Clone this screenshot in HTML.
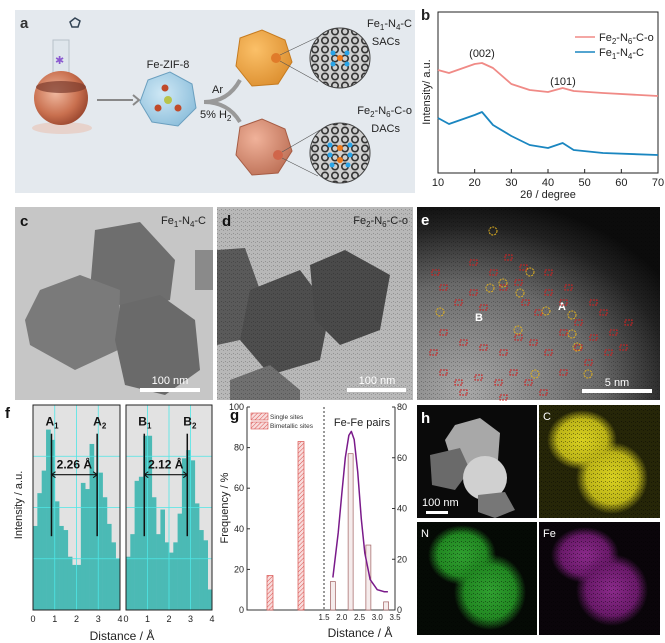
<!DOCTYPE html>
<html><head><meta charset="utf-8"><style>
body{margin:0;background:#fff;}
svg{display:block;font-family:"Liberation Sans",Arial,sans-serif;}
</style></head><body>
<svg id="fig" width="665" height="643" viewBox="0 0 665 643" xmlns="http://www.w3.org/2000/svg">
<defs>
<radialGradient id="flask" cx="0.4" cy="0.4" r="0.7"><stop offset="0" stop-color="#f0b9a0"/><stop offset="0.6" stop-color="#c9704f"/><stop offset="1" stop-color="#8f3d27"/></radialGradient>
<radialGradient id="orange" cx="0.35" cy="0.35" r="0.8"><stop offset="0" stop-color="#fbc068"/><stop offset="1" stop-color="#d98a2a"/></radialGradient>
<radialGradient id="brown" cx="0.35" cy="0.35" r="0.8"><stop offset="0" stop-color="#f0b29a"/><stop offset="1" stop-color="#b86a50"/></radialGradient>
<radialGradient id="zif" cx="0.4" cy="0.4" r="0.8"><stop offset="0" stop-color="#cfe8f5"/><stop offset="1" stop-color="#7fb6d6"/></radialGradient>
<radialGradient id="stem" cx="0.2" cy="0.95" r="1.0"><stop offset="0" stop-color="#a8a8a8"/><stop offset="0.55" stop-color="#6a6a6a"/><stop offset="0.85" stop-color="#222"/><stop offset="1" stop-color="#0c0c0c"/></radialGradient>
<radialGradient id="cmap" cx="0.5" cy="0.5" r="0.5"><stop offset="0" stop-color="#d8d020"/><stop offset="0.7" stop-color="#bdb518"/><stop offset="1" stop-color="#bdb518" stop-opacity="0"/></radialGradient>
<radialGradient id="nmap" cx="0.5" cy="0.5" r="0.5"><stop offset="0" stop-color="#30a030"/><stop offset="0.7" stop-color="#228822"/><stop offset="1" stop-color="#228822" stop-opacity="0"/></radialGradient>
<radialGradient id="femap" cx="0.5" cy="0.5" r="0.5"><stop offset="0" stop-color="#8a2a8a"/><stop offset="0.7" stop-color="#6a1a6a"/><stop offset="1" stop-color="#6a1a6a" stop-opacity="0"/></radialGradient>
<pattern id="speck" width="4" height="4" patternUnits="userSpaceOnUse"><rect width="4" height="4" fill="none"/><rect x="1" y="1" width="1" height="1" fill="#000" opacity="0.6"/><rect x="3" y="2" width="1" height="1" fill="#000" opacity="0.5"/></pattern>
<pattern id="hatch" width="3" height="3" patternUnits="userSpaceOnUse" patternTransform="rotate(45)"><rect width="3" height="3" fill="#f8dcdc"/><line x1="0" y1="0" x2="0" y2="3" stroke="#d9534f" stroke-width="1"/></pattern>
<pattern id="lattice" width="10" height="9" patternUnits="userSpaceOnUse"><rect width="10" height="9" fill="#cfcfcf"/><circle cx="5" cy="4.5" r="3.2" fill="none" stroke="#333" stroke-width="1.6"/></pattern>
</defs>

<!-- Panel a -->
<g>
<rect x="15" y="10" width="400" height="183" fill="#e4e9ee"/>
<text x="20" y="28" font-size="15" font-weight="bold" fill="#333">a</text>
<ellipse cx="62" cy="128" rx="30" ry="6" fill="#e8c8bc" opacity="0.7"/>
<rect x="53" y="40" width="16" height="34" fill="#dfe6ec" stroke="#b7c1c9"/>
<circle cx="61" cy="98" r="27" fill="url(#flask)"/>
<ellipse cx="61" cy="87" rx="25" ry="6" fill="#7a3a2c" opacity="0.7"/>
<text x="55" y="64" font-size="11" fill="#8b5bd0">✱</text>
<path d="M70 22 l5 -4 l5 3 l-2 6 l-6 0z" fill="none" stroke="#345" stroke-width="1.5"/>
<line x1="97" y1="100" x2="133" y2="100" stroke="#888" stroke-width="2"/><path d="M133 95 l6 5 l-6 5" fill="none" stroke="#888" stroke-width="2"/>
<text x="168" y="68" font-size="11" text-anchor="middle" fill="#222">Fe-ZIF-8</text>
<polygon points="148,80 170,72 192,84 196,108 178,126 152,122 140,102" fill="url(#zif)" stroke="#6a9fbf"/>
<circle cx="168" cy="100" r="4" fill="#b8c44a"/><circle cx="165" cy="88" r="3.5" fill="#c04a2a"/><circle cx="158" cy="108" r="3.5" fill="#c04a2a"/><circle cx="178" cy="108" r="3.5" fill="#c04a2a"/>
<path d="M204 102 Q228 102 240 80" fill="none" stroke="#999" stroke-width="4"/>
<path d="M204 102 Q228 102 240 122" fill="none" stroke="#999" stroke-width="4"/>
<text x="212" y="93" font-size="11" fill="#222">Ar</text>
<text x="200" y="118" font-size="11" fill="#222">5% H<tspan font-size="8" dy="3">2</tspan></text>
<polygon points="240,38 262,30 285,40 292,62 278,84 252,86 236,66" fill="url(#orange)" stroke="#c67b1f"/>
<polygon points="240,127 262,119 285,129 292,151 278,173 252,175 236,155" fill="url(#brown)" stroke="#a65c44"/>
<circle cx="276" cy="58" r="5" fill="#e07b2a"/><circle cx="278" cy="155" r="5" fill="#d0654a"/>
<line x1="280" y1="55" x2="320" y2="36" stroke="#555" stroke-width="0.6"/><line x1="280" y1="61" x2="318" y2="82" stroke="#555" stroke-width="0.6"/>
<line x1="282" y1="152" x2="320" y2="130" stroke="#555" stroke-width="0.6"/><line x1="282" y1="158" x2="318" y2="176" stroke="#555" stroke-width="0.6"/>
<circle cx="340" cy="58" r="30" fill="url(#lattice)" stroke="#444"/>
<circle cx="340" cy="153" r="30" fill="url(#lattice)" stroke="#444"/>
<g fill="#2aa4e8"><circle cx="333" cy="53" r="2.5"/><circle cx="347" cy="53" r="2.5"/><circle cx="333" cy="64" r="2.5"/><circle cx="347" cy="64" r="2.5"/>
<circle cx="330" cy="145" r="2.5"/><circle cx="350" cy="145" r="2.5"/><circle cx="330" cy="155" r="2.5"/><circle cx="350" cy="155" r="2.5"/><circle cx="332" cy="165" r="2.5"/><circle cx="348" cy="165" r="2.5"/></g>
<g fill="#f07a1a"><circle cx="340" cy="58" r="3"/><circle cx="340" cy="148" r="3"/><circle cx="340" cy="160" r="3"/></g>
<text x="412" y="27" font-size="11" text-anchor="end" fill="#222">Fe<tspan font-size="8" dy="3">1</tspan><tspan dy="-3">-N</tspan><tspan font-size="8" dy="3">4</tspan><tspan dy="-3">-C</tspan></text>
<text x="400" y="45" font-size="11" text-anchor="end" fill="#222">SACs</text>
<text x="412" y="114" font-size="11" text-anchor="end" fill="#222">Fe<tspan font-size="8" dy="3">2</tspan><tspan dy="-3">-N</tspan><tspan font-size="8" dy="3">6</tspan><tspan dy="-3">-C-o</tspan></text>
<text x="400" y="132" font-size="11" text-anchor="end" fill="#222">DACs</text>
</g>

<!-- Panel b -->
<g id="panelB">
<text x="421" y="20" font-size="15" font-weight="bold" fill="#222">b</text>
<rect x="438" y="12" width="220" height="161" fill="none" stroke="#222"/>
<text transform="translate(430,92) rotate(-90)" font-size="11" text-anchor="middle" fill="#222">Intensity/ a.u.</text>
<text x="548" y="198" font-size="11" text-anchor="middle" fill="#222">2θ / degree</text>
<text x="482" y="57" font-size="11" text-anchor="middle" fill="#222">(002)</text>
<text x="563" y="85" font-size="11" text-anchor="middle" fill="#222">(101)</text>
<line x1="575" y1="37" x2="595" y2="37" stroke="#f08a86" stroke-width="1.5"/>
<text x="599" y="41" font-size="11" fill="#222">Fe<tspan font-size="8" dy="3">2</tspan><tspan dy="-3">-N</tspan><tspan font-size="8" dy="3">6</tspan><tspan dy="-3">-C-o</tspan></text>
<line x1="575" y1="52" x2="595" y2="52" stroke="#1a86c0" stroke-width="1.5"/>
<text x="599" y="56" font-size="11" fill="#222">Fe<tspan font-size="8" dy="3">1</tspan><tspan dy="-3">-N</tspan><tspan font-size="8" dy="3">4</tspan><tspan dy="-3">-C</tspan></text>
</g>

<!-- Panel c -->
<g>
<rect x="15" y="207" width="198" height="193" fill="#c6c6c6"/>
<polygon points="95,230 140,222 175,260 170,300 130,310 90,290" fill="#6e6e6e"/>
<polygon points="40,290 80,275 120,290 118,350 75,370 30,345 25,320" fill="#7a7a7a"/>
<polygon points="120,305 160,295 195,320 200,370 165,395 125,385 115,340" fill="#6a6a6a"/>
<rect x="195" y="250" width="18" height="40" fill="#8a8a8a"/>
<rect x="140" y="388" width="60" height="4" fill="#fff"/>
<text x="170" y="384" font-size="11" text-anchor="middle" fill="#fff">100 nm</text>
<text x="20" y="226" font-size="15" font-weight="bold" fill="#111">c</text>
<text x="206" y="224" font-size="11" text-anchor="end" fill="#222">Fe<tspan font-size="8" dy="3">1</tspan><tspan dy="-3">-N</tspan><tspan font-size="8" dy="3">4</tspan><tspan dy="-3">-C</tspan></text>
</g>

<!-- Panel d -->
<g>
<rect x="217" y="207" width="196" height="193" fill="#b8b8b8"/>
<polygon points="217,250 245,248 260,290 240,340 217,345" fill="#5a5a5a"/>
<polygon points="250,290 300,270 330,310 320,360 270,375 240,340" fill="#4e4e4e"/>
<polygon points="310,265 345,250 390,275 380,330 340,345 315,320" fill="#4a4a4a"/>
<polygon points="230,380 270,365 300,390 300,400 230,400" fill="#707070"/>
<rect x="217" y="207" width="196" height="193" fill="url(#speck)" opacity="0.35"/>
<rect x="347" y="388" width="59" height="4" fill="#fff"/>
<text x="377" y="384" font-size="11" text-anchor="middle" fill="#fff">100 nm</text>
<text x="222" y="226" font-size="15" font-weight="bold" fill="#111">d</text>
<text x="408" y="224" font-size="11" text-anchor="end" fill="#222">Fe<tspan font-size="8" dy="3">2</tspan><tspan dy="-3">-N</tspan><tspan font-size="8" dy="3">6</tspan><tspan dy="-3">-C-o</tspan></text>
</g>

<!-- Panel e -->
<g id="panelE">
<rect x="417" y="207" width="243" height="193" fill="url(#stem)"/>
<rect x="417" y="207" width="243" height="193" fill="url(#speck)" opacity="0.4"/>
<text x="421" y="225" font-size="15" font-weight="bold" fill="#fff">e</text>
<text x="475" y="321" font-size="11" font-weight="bold" fill="#fff">B</text>
<text x="558" y="310" font-size="11" font-weight="bold" fill="#fff">A</text>
<rect x="582" y="389" width="70" height="4" fill="#fff"/>
<text x="617" y="386" font-size="11" text-anchor="middle" fill="#fff">5 nm</text>
</g>

<!-- Panel f -->
<g id="panelF">
<text x="5" y="418" font-size="15" font-weight="bold" fill="#111">f</text>
<text transform="translate(22,505) rotate(-90)" font-size="11" text-anchor="middle" fill="#222">Intensity / a.u.</text>
<text x="122" y="640" font-size="12" text-anchor="middle" fill="#222">Distance / Å</text>
</g>

<!-- Panel g -->
<g id="panelG">
<text x="230" y="420" font-size="15" font-weight="bold" fill="#111">g</text>
<text transform="translate(228,508) rotate(-90)" font-size="11" text-anchor="middle" fill="#222">Frequency / %</text>
<text x="360" y="637" font-size="12" text-anchor="middle" fill="#222">Distance / Å</text>
<text x="362" y="426" font-size="11" text-anchor="middle" fill="#222">Fe-Fe pairs</text>
<rect x="251" y="413" width="17" height="7" fill="url(#hatch)" stroke="#d9534f" stroke-width="0.6"/>
<text x="270" y="419" font-size="6.5" fill="#333">Single sites</text>
<rect x="251" y="422" width="17" height="7" fill="url(#hatch)" stroke="#d9534f" stroke-width="0.6"/>
<text x="270" y="428" font-size="6.5" fill="#333">Bimetallic sites</text>
</g>

<!-- Panel h -->
<g>
<rect x="417" y="405" width="120" height="113" fill="#0a0a0a"/>
<polygon points="455,425 480,418 500,433 498,460 478,470 452,462 445,440" fill="#a8a8a8"/>
<polygon points="430,455 460,448 470,470 455,490 432,485" fill="#6a6a6a"/>
<circle cx="485" cy="478" r="22" fill="#d0d0d0"/>
<polygon points="478,495 505,492 515,510 495,518 478,512" fill="#777"/>
<rect x="426" y="511" width="22" height="3" fill="#fff"/>
<text x="422" y="506" font-size="11" fill="#fff">100 nm</text>
<text x="421" y="423" font-size="15" font-weight="bold" fill="#fff">h</text>
<rect x="539" y="405" width="121" height="113" fill="#262608"/>
<ellipse cx="582" cy="440" rx="35" ry="30" fill="url(#cmap)"/>
<ellipse cx="612" cy="478" rx="36" ry="36" fill="url(#cmap)"/>
<rect x="539" y="405" width="121" height="113" fill="url(#speck)" opacity="0.7"/>
<text x="543" y="420" font-size="11" fill="#fff">C</text>
<rect x="417" y="522" width="120" height="113" fill="#050a05"/>
<ellipse cx="462" cy="555" rx="34" ry="30" fill="url(#nmap)"/>
<ellipse cx="490" cy="592" rx="36" ry="38" fill="url(#nmap)"/>
<rect x="417" y="522" width="120" height="113" fill="url(#speck)" opacity="0.7"/>
<text x="421" y="537" font-size="11" fill="#fff">N</text>
<rect x="539" y="522" width="121" height="113" fill="#0a050a"/>
<ellipse cx="585" cy="555" rx="34" ry="28" fill="url(#femap)"/>
<ellipse cx="612" cy="590" rx="36" ry="36" fill="url(#femap)"/>
<rect x="539" y="522" width="121" height="113" fill="url(#speck)" opacity="0.7"/>
<text x="543" y="537" font-size="11" fill="#fff">Fe</text>
</g>
</svg>
<script>
const NS="http://www.w3.org/2000/svg";
// ---- Panel b data ----
const xrdTheta=[10,13,20,22,25,30,35,40,44,47,55,70];
const xrdFe2=[103,100,109,110,105,89,83,81,85,82,80,77];
const xrdFe1=[55,49,58,61,48,37,28,25,30,23,20,18];
const xrdTicks=[10,20,30,40,50,60,70];
// ---- Panel f data ----
const profileA=[41,57,68,88,83,53,41,39,26,22,22,62,59,81,67,67,55,42,33,25];
const profileB=[26,37,63,65,85,85,55,37,49,33,28,33,47,74,78,73,52,39,34,10];
const profileTicks=[0,1,2,3,4];
// ---- Panel g data ----
const siteCategories=["Single sites","Bimetallic sites"];
const siteFreq=[17,83];
const pairDist=[1.75,2.25,2.75,3.25];
const pairFreq=[14,77,32,4];
const fitDist=[1.75,1.9,2.0,2.1,2.2,2.27,2.35,2.45,2.55,2.65,2.8,3.0,3.2,3.3];
const fitFreq=[16,38,57,75,86,88,84,68,45,28,15,10,9,9];
const gLeftTicks=[0,20,40,60,80,100];
const gRightTicks=[0,20,40,60,80];
const gDistTicks=[1.5,2.0,2.5,3.0,3.5];

function mk(tag,attrs,parent){const e=document.createElementNS(NS,tag);for(const k in attrs)e.setAttribute(k,attrs[k]);parent.appendChild(e);return e;}

// Panel b
(function(){
const g=document.getElementById('panelB');
const xS=t=>438+(t-10)/60*220, yS=v=>173-v;
xrdTicks.forEach(t=>{
 const l=mk('line',{x1:xS(t),x2:xS(t),y1:173,y2:169,stroke:'#222'},g);
 
 const tx=mk('text',{x:xS(t),y:186,'font-size':11,'text-anchor':'middle',fill:'#222'},g);tx.textContent=t;
 
});
[[xrdFe2,'#f08a86','xrd-line-fe2'],[xrdFe1,'#1a86c0','xrd-line-fe1']].forEach(([arr,c,n])=>{
 const p=mk('polyline',{points:arr.map((v,i)=>xS(xrdTheta[i])+','+yS(v)).join(' '),fill:'none',stroke:c,'stroke-width':1.8,'stroke-linejoin':'round'},g);
 
});
})();

// Panel e markers (decorative annotations)
(function(){
const g=document.getElementById('panelE');
const rects=[[432,270],[440,285],[455,300],[470,290],[480,305],[490,270],[500,285],[515,280],[522,300],[535,310],[545,290],[560,300],[575,320],[590,300],[600,310],[610,330],[625,320],[440,330],[460,340],[480,345],[500,350],[515,335],[530,340],[545,350],[560,330],[575,345],[590,335],[605,350],[440,370],[455,380],[475,375],[495,380],[510,370],[525,380],[540,390],[560,370],[470,260],[505,255],[520,265],[545,270],[565,285],[430,350],[585,360],[620,345],[500,395],[460,390]];
rects.forEach(r=>{const e=mk('rect',{x:r[0],y:r[1],width:7,height:5,fill:'none',stroke:'#d02020','stroke-width':1,'stroke-dasharray':'2,1'},g);
 });
const circ=[[493,231],[530,272],[490,288],[503,283],[440,312],[518,330],[546,311],[572,315],[572,334],[577,347],[520,293],[588,374],[535,374]];
circ.forEach(c=>{const e=mk('circle',{cx:c[0],cy:c[1],r:4,fill:'none',stroke:'#e0b020','stroke-width':1,'stroke-dasharray':'2,1'},g);
 });
})();

// Panel f
(function(){
const g=document.getElementById('panelF');
const panels=[[33,120,profileA,'A',0.85,2.95,'2.26 Å'],[126,212,profileB,'B',0.85,2.85,'2.12 Å']];
panels.forEach(([x0,x1,data,lab,p1,p2,dist],pi)=>{
 const top=405,bot=610;
 const xS=d=>x0+d/4*(x1-x0), yS=v=>bot-v/100*(bot-top);
 const bg=mk('rect',{x:x0,y:top,width:x1-x0,height:bot-top,fill:'#e2e2e2'},g);
 
 const bw=4/data.length;
 data.forEach((v,i)=>{const b=mk('rect',{x:xS(i*bw),y:yS(v),width:xS(bw)-x0+0.3,height:bot-yS(v),fill:'#4bbab5'},g);
  });
 [1,2,3].forEach(t=>{const l=mk('line',{x1:xS(t),x2:xS(t),y1:top,y2:bot,stroke:'#4ee6e6','stroke-width':0.8},g);
  });
 [25,50,75].forEach(v=>{const l=mk('line',{x1:x0,x2:x1,y1:yS(v),y2:yS(v),stroke:'#4ee6e6','stroke-width':0.8},g);
  });
 const fr=mk('rect',{x:x0,y:top,width:x1-x0,height:bot-top,fill:'none',stroke:'#222'},g);
 
 [p1,p2].forEach((p,k)=>{
  const l=mk('line',{x1:xS(p),x2:xS(p),y1:yS(86),y2:yS(36),stroke:'#111','stroke-width':1.5},g);
  
  const t=mk('text',{x:xS(p)+(k?-4:-6),y:yS(90),'font-size':12,'font-weight':'bold',fill:'#111'},g);
  t.innerHTML=lab+'<tspan font-size="8" dy="3">'+(k+1)+'</tspan>';
  
 });
 const ay=yS(66);
 const a=mk('line',{x1:xS(p1),x2:xS(p2),y1:ay,y2:ay,stroke:'#111','stroke-width':1.2},g);
 
 mk('path',{d:`M${xS(p1)+4} ${ay-3} L${xS(p1)} ${ay} L${xS(p1)+4} ${ay+3} M${xS(p2)-4} ${ay-3} L${xS(p2)} ${ay} L${xS(p2)-4} ${ay+3}`,fill:'none',stroke:'#111'},g);
 const dt=mk('text',{x:(xS(p1)+xS(p2))/2,y:ay-6,'font-size':12,'font-weight':'bold','text-anchor':'middle',fill:'#111'},g);dt.textContent=dist;
 
 profileTicks.forEach(t=>{const tx=mk('text',{x:xS(t),y:622,'font-size':9,'text-anchor':'middle',fill:'#222'},g);tx.textContent=t;
  });
});
})();

// Panel g
(function(){
const g=document.getElementById('panelG');
const x0=247,x1=395,top=407,bot=610;
const yS=v=>bot-v/100*(bot-top);
const dS=d=>324+(d-1.5)/2*(395-324);
const catX=[270,301];
const ax=mk('path',{d:`M${x0} ${top} V${bot} H${x1} V${top}`,fill:'none',stroke:'#333'},g);

const dl=mk('line',{x1:324,x2:324,y1:top,y2:bot,stroke:'#333','stroke-dasharray':'2,2'},g);

gLeftTicks.forEach(t=>{const tx=mk('text',{x:x0-3,y:yS(t)+3,'font-size':9,'text-anchor':'end',fill:'#222'},g);tx.textContent=t;
 
 mk('line',{x1:x0,x2:x0+3,y1:yS(t),y2:yS(t),stroke:'#333'},g);});
gRightTicks.forEach(t=>{const y=yS(t/0.8);const tx=mk('text',{x:x1+2,y:y+3,'font-size':9,fill:'#222'},g);tx.textContent=t;
 
 mk('line',{x1:x1-3,x2:x1,y1:y,y2:y,stroke:'#333'},g);});
gDistTicks.forEach(t=>{const tx=mk('text',{x:dS(t),y:620,'font-size':8,'text-anchor':'middle',fill:'#222'},g);tx.textContent=t.toFixed(1);
 });
siteFreq.forEach((v,i)=>{const b=mk('rect',{x:catX[i]-3,y:yS(v),width:6,height:bot-yS(v),fill:'url(#hatch)',stroke:'#d9534f','stroke-width':0.7},g);
 });
pairFreq.forEach((v,i)=>{const b=mk('rect',{x:dS(pairDist[i])-2.5,y:yS(v),width:5,height:bot-yS(v),fill:'#f5ecec',stroke:'#a06060','stroke-width':0.7},g);
 });
const fit=mk('polyline',{points:fitDist.map((d,i)=>dS(d)+','+yS(fitFreq[i])).join(' '),fill:'none',stroke:'#7a1a8a','stroke-width':1.5,'stroke-linejoin':'round'},g);

})();
</script>
</body></html>
